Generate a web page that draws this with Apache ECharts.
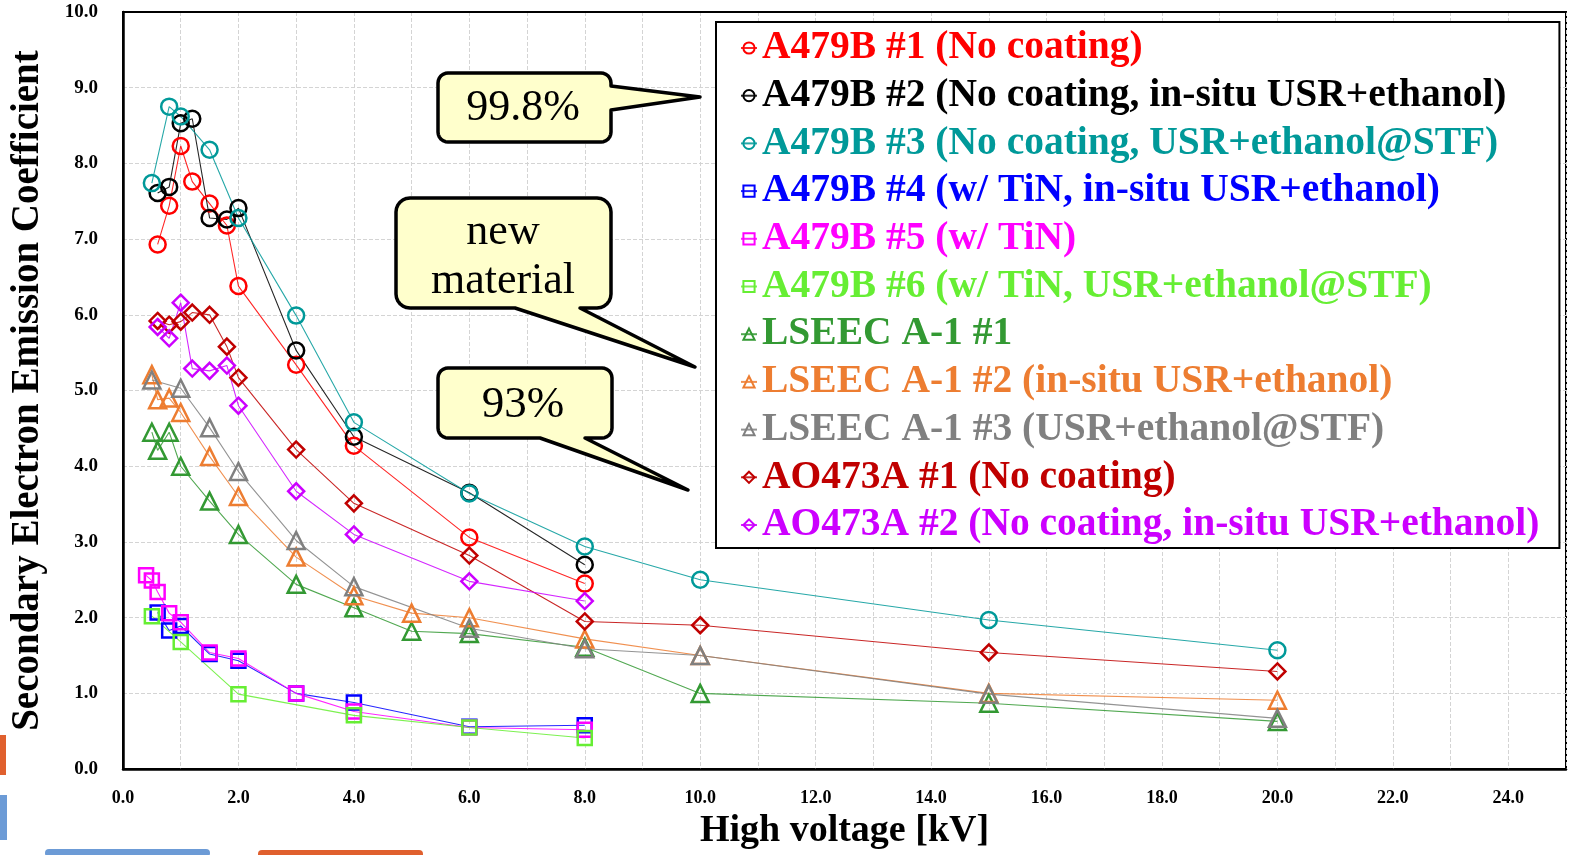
<!DOCTYPE html>
<html>
<head>
<meta charset="utf-8">
<script src="https://cdn.jsdelivr.net/npm/echarts@6/dist/echarts.min.js"></script>
<style>html,body{margin:0;padding:0;background:#fff;}#chart{width:1569px;height:855px;}</style>
</head>
<body>
<div id="chart"></div>
<script>
// ---- data (x = high voltage kV, y = SEE coefficient) ----
const a479b1 = [[0.6,6.93],[0.8,7.44],[1.0,8.23],[1.2,7.76],[1.5,7.47],[1.8,7.18],[2.0,6.38],[3.0,5.34],[4.0,4.27],[6.0,3.06],[8.0,2.45]];
const a479b2 = [[0.6,7.61],[0.8,7.69],[1.0,8.53],[1.2,8.59],[1.5,7.28],[1.8,7.26],[2.0,7.41],[3.0,5.53],[4.0,4.39],[6.0,3.65],[8.0,2.70]];
const a479b3 = [[0.5,7.74],[0.8,8.75],[1.0,8.62],[1.5,8.18],[2.0,7.28],[3.0,5.99],[4.0,4.58],[6.0,3.64],[8.0,2.94],[10.0,2.50],[15.0,1.97],[20.0,1.57]];
const a479b4 = [[0.6,2.07],[0.8,1.83],[1.0,1.89],[1.5,1.52],[2.0,1.43],[3.0,1.00],[4.0,0.88],[6.0,0.56],[8.0,0.58]];
const a479b5 = [[0.4,2.56],[0.5,2.49],[0.6,2.34],[0.8,2.06],[1.0,1.94],[1.5,1.54],[2.0,1.46],[3.0,1.00],[4.0,0.76],[6.0,0.55],[8.0,0.52]];
const a479b6 = [[0.5,2.02],[1.0,1.68],[2.0,0.99],[4.0,0.71],[6.0,0.55],[8.0,0.41]];
const lseec1 = [[0.5,4.45],[0.6,4.21],[0.8,4.45],[1.0,4.00],[1.5,3.54],[2.0,3.10],[3.0,2.44],[4.0,2.13],[5.0,1.82],[6.0,1.79],[8.0,1.61],[10.0,1.00],[15.0,0.87],[20.0,0.63]];
const lseec2 = [[0.5,5.21],[0.6,4.88],[0.8,4.90],[1.0,4.71],[1.5,4.13],[2.0,3.60],[3.0,2.80],[4.0,2.29],[5.0,2.06],[6.0,2.00],[8.0,1.72],[10.0,1.50],[15.0,1.00],[20.0,0.91]];
const lseec3 = [[0.5,5.14],[1.0,5.03],[1.5,4.51],[2.0,3.93],[3.0,3.02],[4.0,2.41],[6.0,1.86],[8.0,1.59],[10.0,1.50],[15.0,0.99],[20.0,0.67]];
const ao473a1 = [[0.6,5.92],[0.8,5.87],[1.0,5.91],[1.2,6.03],[1.5,6.00],[1.8,5.58],[2.0,5.17],[3.0,4.22],[4.0,3.51],[6.0,2.82],[8.0,1.95],[10.0,1.90],[15.0,1.54],[20.0,1.29]];
const ao473a2 = [[0.6,5.84],[0.8,5.69],[1.0,6.16],[1.2,5.29],[1.5,5.26],[1.8,5.33],[2.0,4.80],[3.0,3.67],[4.0,3.10],[6.0,2.48],[8.0,2.22]];

const seriesNames = [
  'A479B #1 (No coating)',
  'A479B #2 (No coating, in-situ USR+ethanol)',
  'A479B #3 (No coating, USR+ethanol@STF)',
  'A479B #4 (w/ TiN, in-situ USR+ethanol)',
  'A479B #5 (w/ TiN)',
  'A479B #6 (w/ TiN, USR+ethanol@STF)',
  'LSEEC A-1 #1',
  'LSEEC A-1 #2 (in-situ USR+ethanol)',
  'LSEEC A-1 #3 (USR+ethanol@STF)',
  'AO473A #1 (No coating)',
  'AO473A #2 (No coating, in-situ USR+ethanol)'
];
const seriesData = [a479b1, a479b2, a479b3, a479b4, a479b5, a479b6, lseec1, lseec2, lseec3, ao473a1, ao473a2];
const seriesColors = ['#FF0000','#000000','#009999','#0000FF','#FF00FF','#66EE33','#339933','#ED7D31','#808080','#C00000','#CC00FF'];
const seriesSymbols = ['circle','circle','circle','rect','rect','rect','triangle','triangle','triangle','diamond','diamond'];
const symbolSizes = {circle:16, rect:14, triangle:17, diamond:16};

const chart = echarts.init(document.getElementById('chart'));

const series = seriesNames.map((name, i) => ({
  name: name,
  type: 'line',
  data: seriesData[i],
  symbol: seriesSymbols[i],
  symbolSize: symbolSizes[seriesSymbols[i]],
  showAllSymbol: true,
  lineStyle: {color: seriesColors[i], width: 1.1, opacity: 0.85},
  itemStyle: {color: 'rgba(255,255,255,0)', borderColor: seriesColors[i], borderWidth: 2.5},
  emphasis: {disabled: true},
  animation: false,
  z: 3
}));

// rounded-rectangle callout outline with a pointer wedge
function arcPts(cx, cy, r, a0, a1) {
  const pts = [];
  for (let k = 0; k <= 6; k++) {
    const a = (a0 + (a1 - a0) * k / 6) * Math.PI / 180;
    pts.push([cx + r * Math.cos(a), cy + r * Math.sin(a)]);
  }
  return pts;
}
function callout(x, y, w, h, r, side, base0, base1, tip) {
  let pts = [];
  pts = pts.concat(arcPts(x + w - r, y + r, r, -90, 0));
  if (side === 'right') pts.push([x + w, base0], tip, [x + w, base1]);
  pts = pts.concat(arcPts(x + w - r, y + h - r, r, 0, 90));
  if (side === 'bottom') pts.push([base1, y + h], tip, [base0, y + h]);
  pts = pts.concat(arcPts(x + r, y + h - r, r, 90, 180));
  pts = pts.concat(arcPts(x + r, y + r, r, 180, 270));
  return {type: 'polygon', shape: {points: pts}, style: {fill: '#FFFFCC', stroke: '#000', lineWidth: 3.5, lineJoin: 'round'}, z: 20};
}
function calloutText(x, y, t, size) {
  return {type: 'text', x: x, y: y, style: {text: t, font: 'normal ' + size + 'px "Liberation Serif"', fill: '#000', textAlign: 'center', textVerticalAlign: 'middle'}, z: 21};
}

const option = {
  backgroundColor: '#fff',
  animation: false,
  grid: {left: 119, right: 0, top: 12, bottom: 85, show: true, borderColor: '#000', borderWidth: 2},
  xAxis: [{
    type: 'value', min: 0, max: 25, interval: 1,
    name: 'High voltage [kV]', nameLocation: 'middle', nameGap: 40,
    nameTextStyle: {fontFamily: 'Liberation Serif', fontWeight: 'bold', fontSize: 38, color: '#000'},
    axisLine: {show: true, lineStyle: {color: '#000', width: 2.5}},
    axisTick: {show: false},
    axisLabel: {
      margin: 20, color: '#000', fontFamily: 'Liberation Serif', fontWeight: 'bold', fontSize: 18,
      formatter: v => (Math.round(v) % 2 === 0 ? v.toFixed(1) : '')
    },
    splitLine: {show: true, lineStyle: {color: '#d4d4d4', type: 'dashed', width: 1}}
  }, {
    type: 'value', position: 'top', min: 0, max: 25, interval: 1,
    axisLine: {show: true, onZero: false, lineStyle: {color: '#000', width: 2}},
    axisTick: {show: false}, axisLabel: {show: false}, splitLine: {show: false}
  }],
  yAxis: {
    type: 'value', min: 0, max: 10, interval: 1,
    name: 'Secondary Electron Emission Coefficient', nameLocation: 'middle', nameGap: 76,
    nameTextStyle: {fontFamily: 'Liberation Serif', fontWeight: 'bold', fontSize: 39, color: '#000'},
    axisLine: {show: true, lineStyle: {color: '#000', width: 2.5}},
    axisTick: {show: false},
    axisLabel: {margin: 25, color: '#000', fontFamily: 'Liberation Serif', fontWeight: 'bold', fontSize: 19,
      formatter: v => v.toFixed(1)},
    splitLine: {show: true, lineStyle: {color: '#d4d4d4', type: 'dashed', width: 1}}
  },
  legend: {
    orient: 'vertical', left: 716, top: 22,
    backgroundColor: '#fff', borderColor: '#000', borderWidth: 2,
    padding: [6, 20, 3, 24],
    itemWidth: 16, itemHeight: 14, itemGap: 7.7,
    selectedMode: false,
    textStyle: {fontFamily: 'Liberation Serif', fontWeight: 'bold', fontSize: 39.5, lineHeight: 40},
    data: seriesNames.map((n, i) => ({name: n, textStyle: {color: seriesColors[i]}})),
    z: 10
  },
  graphic: [
    callout(438, 73, 173, 69, 10, 'right', 86, 110, [700, 97]),
    calloutText(523, 108, '99.8%', 44),
    callout(396, 198, 215, 110, 14, 'bottom', 515, 580, [695, 367]),
    calloutText(503, 232, 'new', 44),
    calloutText(503, 281, 'material', 44),
    callout(438, 368, 174, 70, 10, 'bottom', 540, 585, [688, 490]),
    calloutText(523, 405, '93%', 45),
    {type: 'rect', shape: {x: 0, y: 735, width: 6, height: 40}, style: {fill: '#E0602E'}, z: 0},
    {type: 'rect', shape: {x: 0, y: 795, width: 7, height: 45}, style: {fill: '#6C9BD6'}, z: 0},
    {type: 'rect', shape: {x: 45, y: 849, width: 165, height: 8, r: 4}, style: {fill: '#6C9BD6'}, z: 0},
    {type: 'rect', shape: {x: 258, y: 850, width: 165, height: 8, r: 4}, style: {fill: '#E0602E'}, z: 0}
  ],
  series: series
};
chart.setOption(option);
</script>
</body>
</html>
